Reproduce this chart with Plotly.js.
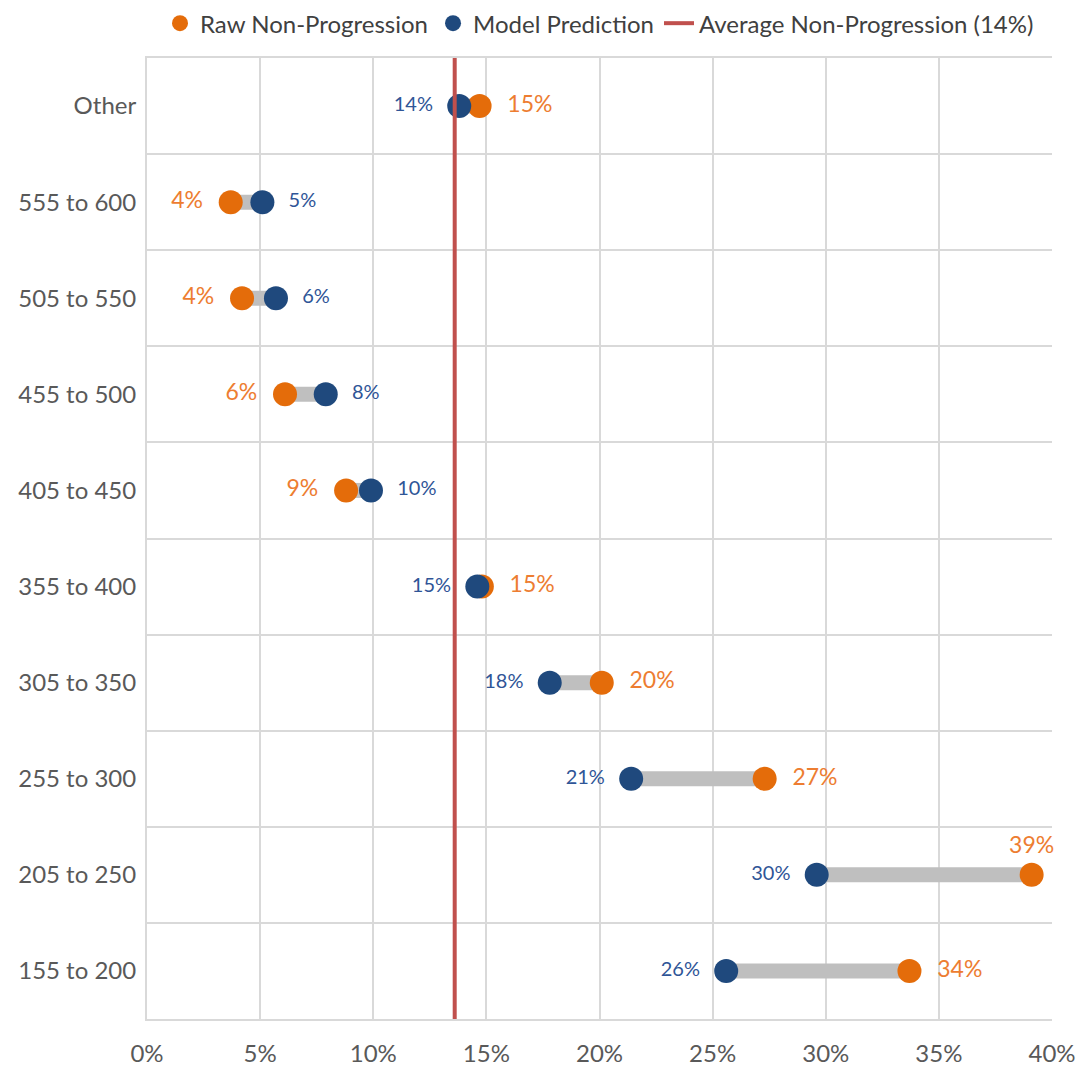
<!DOCTYPE html>
<html><head><meta charset="utf-8">
<script src="https://cdn.plot.ly/plotly-3.0.1.min.js"></script>
<style>html,body{margin:0;padding:0;background:#fff}#chart{width:1081px;height:1075px}</style>
</head><body><div id="chart"></div>
<script>
const categories = ["Other","555 to 600","505 to 550","455 to 500","405 to 450","355 to 400","305 to 350","255 to 300","205 to 250","155 to 200"];
const rawNonProgression = [14.7, 3.7, 4.2, 6.1, 8.8, 14.8, 20.1, 27.3, 39.1, 33.7];
const modelPrediction   = [13.8, 5.1, 5.7, 7.9, 9.9, 14.6, 17.8, 21.4, 29.6, 25.6];
const averageNonProgression = 13.6;
const xTickVals = [0,5,10,15,20,25,30,35,40];
const xTickText = ["0%","5%","10%","15%","20%","25%","30%","35%","40%"];

const ORANGE = "#E46C0A", BLUE = "#1F497D", GREY = "#BFBFBF", RED = "#C0504D";
const font = "Lato, 'Open Sans', sans-serif";
const NB = "\u00A0\u00A0";

// connectors
const cx = [], cy = [];
categories.forEach((c,i)=>{ cx.push(modelPrediction[i], rawNonProgression[i], null); cy.push(c, c, null); });

const orangePos = rawNonProgression.map((v,i)=> v > 37 ? "top center" : (v >= modelPrediction[i] ? "middle right" : "middle left"));
const bluePos = modelPrediction.map((v,i)=> v > rawNonProgression[i] ? "middle right" : "middle left");
const label = (v, pos) => {
  const t = Math.round(v) + "%";
  if (pos === "middle right") return NB + t;
  if (pos === "middle left") return t + NB;
  return t;
};

const traces = [
  {x: cx, y: cy, type: "scatter", mode: "lines", line: {color: GREY, width: 15}, showlegend: false, hoverinfo: "skip"},
  {x: rawNonProgression, y: categories, type: "scatter", mode: "markers+text", name: "Raw Non-Progression",
   marker: {color: ORANGE, size: 24}, text: rawNonProgression.map((v,i)=>label(v, orangePos[i])), textposition: orangePos,
   textfont: {family: font, size: 23, color: "#ED7D31"}, legendrank: 1, cliponaxis: false},
  {x: modelPrediction, y: categories, type: "scatter", mode: "markers+text", name: "Model Prediction",
   marker: {color: BLUE, size: 24}, text: modelPrediction.map((v,i)=>label(v, bluePos[i])), textposition: bluePos,
   textfont: {family: font, size: 20, color: "#2F5597"}, legendrank: 2, cliponaxis: false},
  {x: [null], y: [null], type: "scatter", mode: "lines", name: "Average Non-Progression (" + Math.round(averageNonProgression) + "%)",
   line: {color: RED, width: 4}, legendrank: 3}
];

const layout = {
  width: 1081, height: 1075,
  margin: {l: 147, r: 29, t: 58, b: 56, autoexpand: false},
  paper_bgcolor: "#fff", plot_bgcolor: "#fff",
  font: {family: font, color: "#595959"},
  showlegend: true,
  legend: {orientation: "h", x: 0.5, xanchor: "center", y: 0.999, yanchor: "top", yref: "container",
           font: {size: 24, color: "#404040"}, traceorder: "normal", itemwidth: 30, tracegroupgap: 0},
  xaxis: {range: [0, 40], tickvals: xTickVals, ticktext: xTickText, showgrid: true, gridcolor: "#D9D9D9", gridwidth: 2,
          zeroline: false, showline: true, linecolor: "#D9D9D9", linewidth: 2, mirror: true,
          tickfont: {size: 24, color: "#595959"}, ticks: "", ticklen: 0, ticklabelstandoff: 12, fixedrange: true},
  yaxis: {type: "category", categoryorder: "array", categoryarray: categories, range: [categories.length - 0.5, -0.5],
          tickson: "boundaries", ticks: "", showgrid: true, gridcolor: "#D9D9D9", gridwidth: 2,
          showline: true, linecolor: "#D9D9D9", linewidth: 2, zeroline: false,
          tickfont: {size: 24, color: "#595959"}, ticklabelstandoff: 4, fixedrange: true},
  shapes: [{type: "line", xref: "x", yref: "paper", x0: averageNonProgression, x1: averageNonProgression, y0: 0, y1: 1,
            line: {color: RED, width: 4}, layer: "above"}]
};
Plotly.newPlot("chart", traces, layout, {displayModeBar: false, staticPlot: true});
</script></body></html>
